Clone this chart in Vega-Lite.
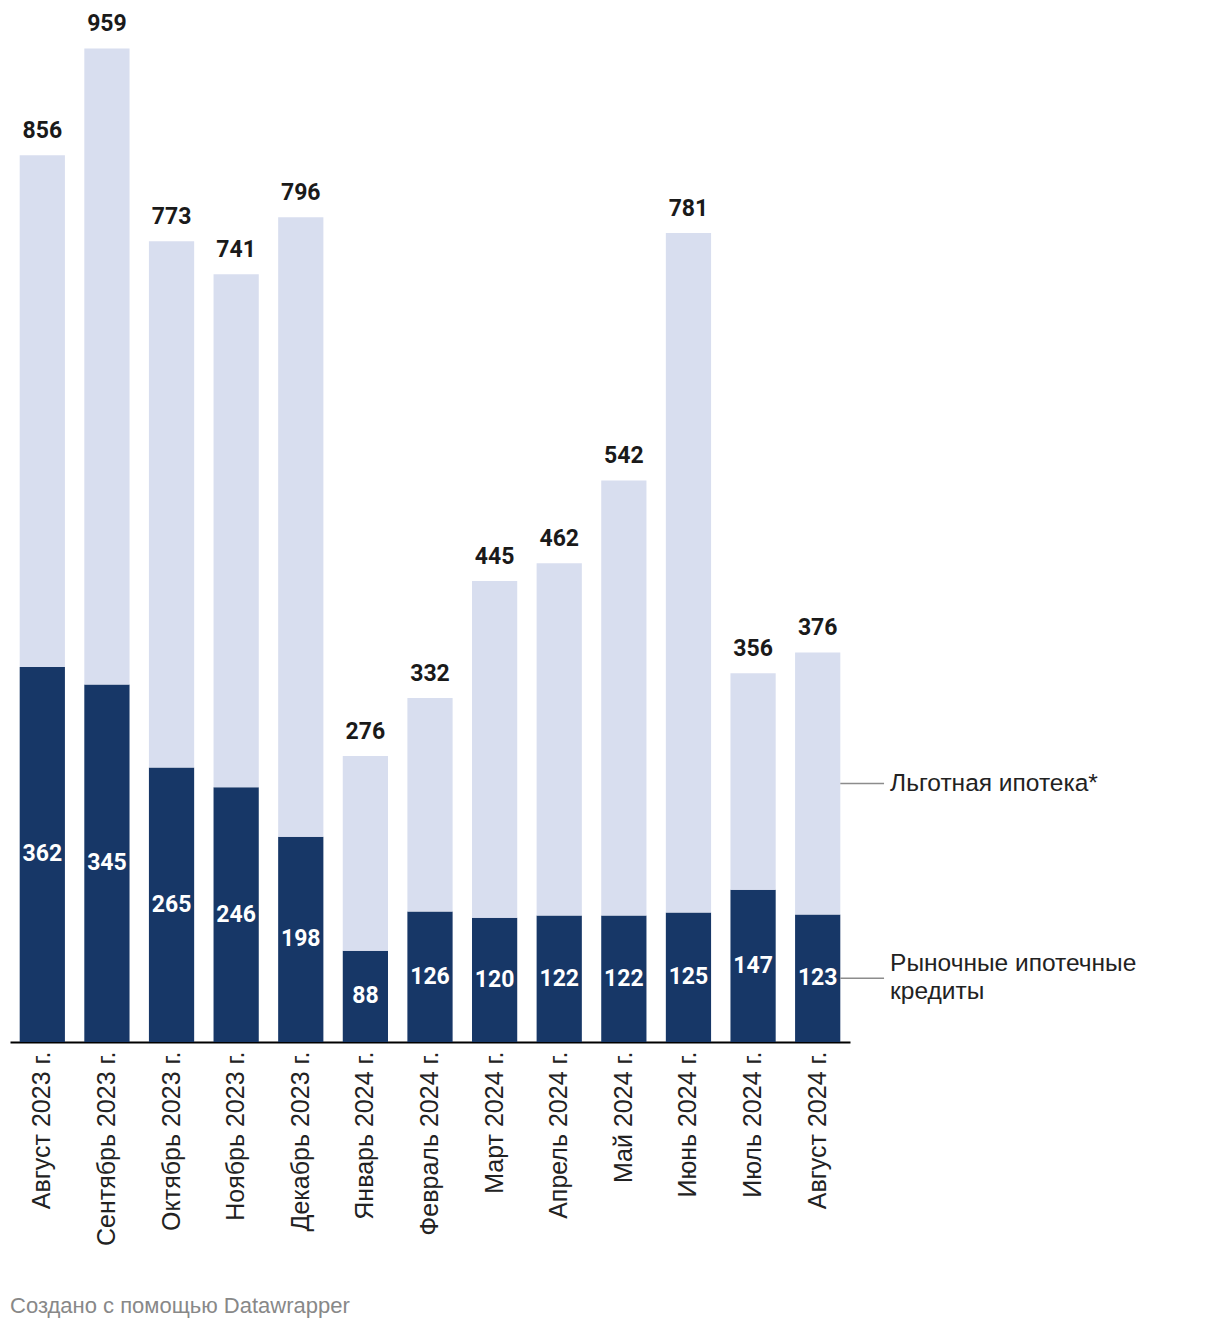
{
  "$schema": "https://vega.github.io/schema/vega-lite/v6.json",
  "width": 840,
  "height": 1036,
  "autosize": "none",
  "padding": {"left": 10, "top": 6, "right": 370, "bottom": 286},
  "background": "white",
  "config": {"view": {"stroke": null}},
  "title": {
    "text": "Создано с помощью Datawrapper",
    "orient": "bottom",
    "anchor": "start",
    "offset": 50,
    "font": "Liberation Sans",
    "fontSize": 22,
    "fontWeight": "normal",
    "color": "#888888"
  },
  "datasets": {
    "segments": [
      {"month": "Август 2023 г.", "type": "Рыночные ипотечные кредиты", "value": 362},
      {"month": "Август 2023 г.", "type": "Льготная ипотека*", "value": 494},
      {"month": "Сентябрь 2023 г.", "type": "Рыночные ипотечные кредиты", "value": 345},
      {"month": "Сентябрь 2023 г.", "type": "Льготная ипотека*", "value": 614},
      {"month": "Октябрь 2023 г.", "type": "Рыночные ипотечные кредиты", "value": 265},
      {"month": "Октябрь 2023 г.", "type": "Льготная ипотека*", "value": 508},
      {"month": "Ноябрь 2023 г.", "type": "Рыночные ипотечные кредиты", "value": 246},
      {"month": "Ноябрь 2023 г.", "type": "Льготная ипотека*", "value": 495},
      {"month": "Декабрь 2023 г.", "type": "Рыночные ипотечные кредиты", "value": 198},
      {"month": "Декабрь 2023 г.", "type": "Льготная ипотека*", "value": 598},
      {"month": "Январь 2024 г.", "type": "Рыночные ипотечные кредиты", "value": 88},
      {"month": "Январь 2024 г.", "type": "Льготная ипотека*", "value": 188},
      {"month": "Февраль 2024 г.", "type": "Рыночные ипотечные кредиты", "value": 126},
      {"month": "Февраль 2024 г.", "type": "Льготная ипотека*", "value": 206},
      {"month": "Март 2024 г.", "type": "Рыночные ипотечные кредиты", "value": 120},
      {"month": "Март 2024 г.", "type": "Льготная ипотека*", "value": 325},
      {"month": "Апрель 2024 г.", "type": "Рыночные ипотечные кредиты", "value": 122},
      {"month": "Апрель 2024 г.", "type": "Льготная ипотека*", "value": 340},
      {"month": "Май 2024 г.", "type": "Рыночные ипотечные кредиты", "value": 122},
      {"month": "Май 2024 г.", "type": "Льготная ипотека*", "value": 420},
      {"month": "Июнь 2024 г.", "type": "Рыночные ипотечные кредиты", "value": 125},
      {"month": "Июнь 2024 г.", "type": "Льготная ипотека*", "value": 656},
      {"month": "Июль 2024 г.", "type": "Рыночные ипотечные кредиты", "value": 147},
      {"month": "Июль 2024 г.", "type": "Льготная ипотека*", "value": 209},
      {"month": "Август 2024 г.", "type": "Рыночные ипотечные кредиты", "value": 123},
      {"month": "Август 2024 г.", "type": "Льготная ипотека*", "value": 253}
    ],
    "totals": [
      {"month": "Август 2023 г.", "total": 856},
      {"month": "Сентябрь 2023 г.", "total": 959},
      {"month": "Октябрь 2023 г.", "total": 773},
      {"month": "Ноябрь 2023 г.", "total": 741},
      {"month": "Декабрь 2023 г.", "total": 796},
      {"month": "Январь 2024 г.", "total": 276},
      {"month": "Февраль 2024 г.", "total": 332},
      {"month": "Март 2024 г.", "total": 445},
      {"month": "Апрель 2024 г.", "total": 462},
      {"month": "Май 2024 г.", "total": 542},
      {"month": "Июнь 2024 г.", "total": 781},
      {"month": "Июль 2024 г.", "total": 356},
      {"month": "Август 2024 г.", "total": 376}
    ],
    "legend": [
      {"month": "Август 2024 г.", "label": ["Льготная ипотека*"], "lines": 1, "mid": 249.5},
      {"month": "Август 2024 г.", "label": ["Рыночные ипотечные", "кредиты"], "lines": 2, "mid": 61.5}
    ]
  },
  "encoding": {
    "x": {
      "field": "month",
      "type": "nominal",
      "scale": {
        "domain": ["Август 2023 г.", "Сентябрь 2023 г.", "Октябрь 2023 г.", "Ноябрь 2023 г.", "Декабрь 2023 г.", "Январь 2024 г.", "Февраль 2024 г.", "Март 2024 г.", "Апрель 2024 г.", "Май 2024 г.", "Июнь 2024 г.", "Июль 2024 г.", "Август 2024 г."],
        "paddingInner": 0.3,
        "paddingOuter": 0.15
      },
      "axis": {
        "title": null,
        "labelAngle": -90,
        "labelFont": "Liberation Sans",
        "labelFontSize": 25,
        "labelColor": "#222222",
        "labelPadding": 9,
        "labelLimit": 400,
        "ticks": false,
        "grid": false,
        "domainColor": "#000000",
        "domainWidth": 2
      }
    }
  },
  "layer": [
    {
      "data": {"name": "segments"},
      "mark": {"type": "bar"},
      "encoding": {
        "y": {"field": "value", "type": "quantitative", "stack": "zero", "scale": {"domain": [0, 1000], "nice": false}, "axis": null},
        "color": {
          "field": "type",
          "type": "nominal",
          "scale": {"domain": ["Рыночные ипотечные кредиты", "Льготная ипотека*"], "range": ["#173767", "#d8deef"]},
          "legend": null
        },
        "order": {"field": "type", "sort": "descending"}
      }
    },
    {
      "data": {"name": "segments"},
      "transform": [{"filter": "datum.type === 'Рыночные ипотечные кредиты'"}],
      "mark": {"type": "text", "font": "Roboto", "fontWeight": "bold", "fontSize": 23, "color": "white", "baseline": "middle"},
      "encoding": {
        "y": {"field": "value", "type": "quantitative", "stack": "zero", "bandPosition": 0.5},
        "text": {"field": "value", "type": "quantitative"}
      }
    },
    {
      "data": {"name": "totals"},
      "mark": {"type": "text", "font": "Roboto", "fontWeight": "bold", "fontSize": 23, "color": "#1a1a1a", "baseline": "alphabetic", "dy": -17},
      "encoding": {
        "y": {"field": "total", "type": "quantitative"},
        "text": {"field": "total", "type": "quantitative"}
      }
    },
    {
      "data": {"name": "legend"},
      "mark": {"type": "rule", "color": "#8c8c8c", "strokeWidth": 1.5},
      "encoding": {
        "x": {"field": "month", "type": "nominal", "bandPosition": 1.0},
        "x2": {"field": "month", "bandPosition": 1.967},
        "y": {"field": "mid", "type": "quantitative"}
      }
    },
    {
      "data": {"name": "legend"},
      "transform": [{"filter": "datum.lines === 1"}],
      "mark": {"type": "text", "font": "Liberation Sans", "fontSize": 24.5, "color": "#222222", "align": "left", "baseline": "middle", "lineHeight": 28},
      "encoding": {
        "x": {"field": "month", "type": "nominal", "bandPosition": 2.1},
        "y": {"field": "mid", "type": "quantitative"},
        "text": {"field": "label"}
      }
    },
    {
      "data": {"name": "legend"},
      "transform": [{"filter": "datum.lines === 2"}],
      "mark": {"type": "text", "font": "Liberation Sans", "fontSize": 24.5, "color": "#222222", "align": "left", "baseline": "middle", "lineHeight": 28, "dy": -14},
      "encoding": {
        "x": {"field": "month", "type": "nominal", "bandPosition": 2.1},
        "y": {"field": "mid", "type": "quantitative"},
        "text": {"field": "label"}
      }
    }
  ]
}
